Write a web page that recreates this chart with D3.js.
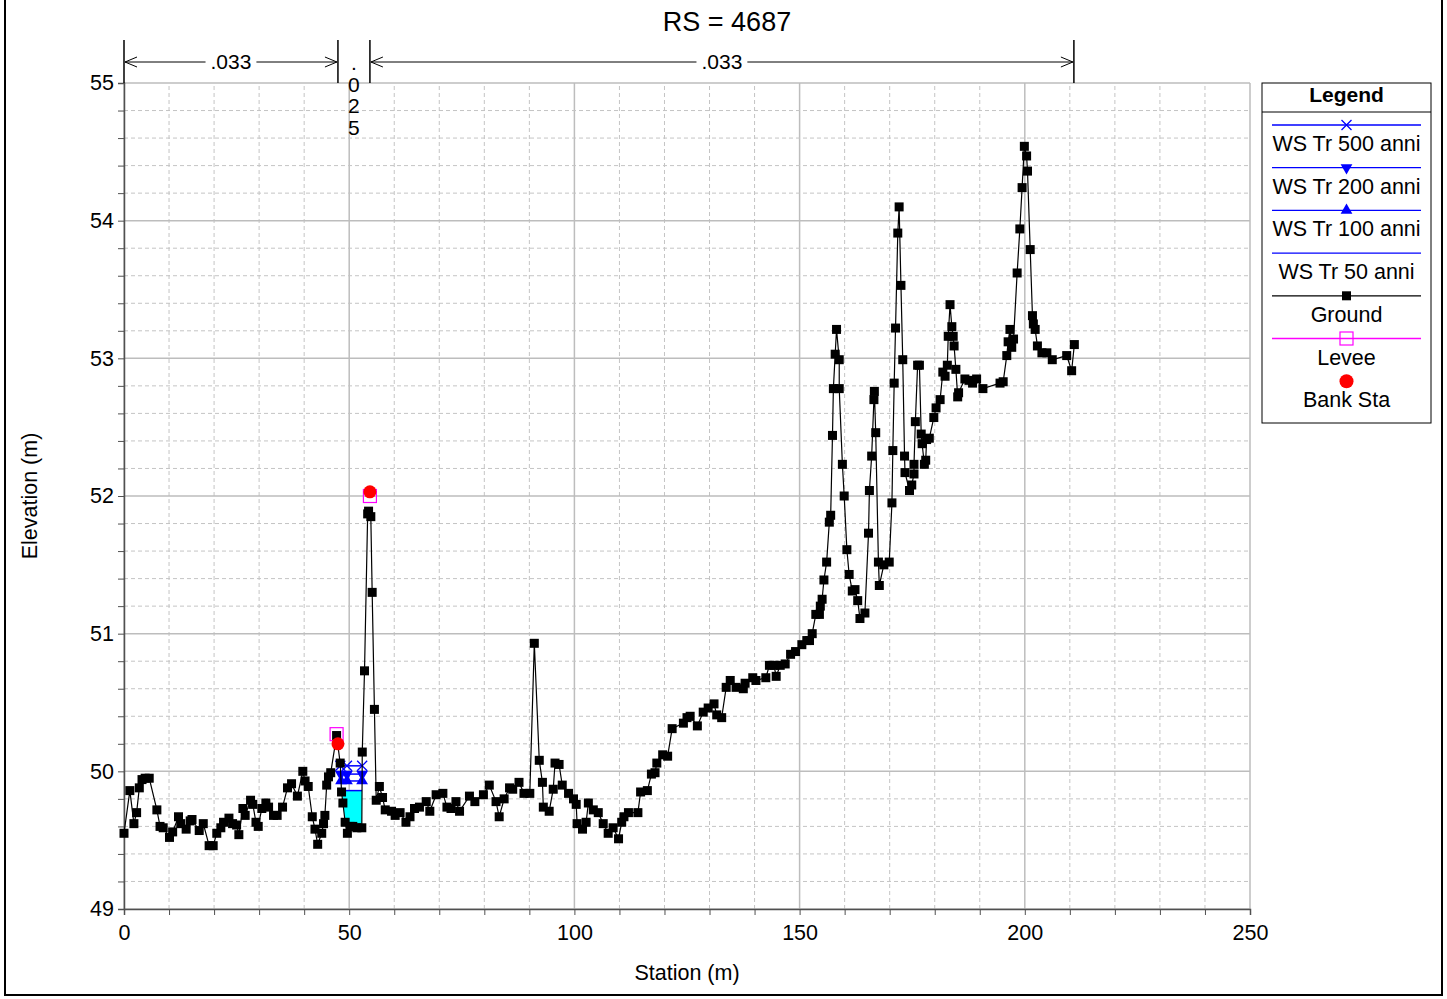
<!DOCTYPE html>
<html>
<head>
<meta charset="utf-8">
<script src="https://cdn.jsdelivr.net/npm/d3@7"></script>
<style>
  body { margin: 0; background: #fff; }
  text { font-family: "Liberation Sans", Arial, sans-serif; fill: #000; }
</style>
</head>
<body>
<svg id="chart" width="1447" height="999"></svg>
<script>
// ground survey points [station, elevation]
const groundPoints = [
  [0.0,49.55],[1.3,49.86],[2.2,49.62],[2.8,49.70],[3.4,49.88],[4.0,49.94],[4.7,49.95],[5.6,49.95],
  [7.3,49.72],[8.0,49.60],[8.7,49.59],[10.1,49.52],[10.8,49.56],[12.1,49.67],[12.6,49.62],[13.8,49.58],
  [14.7,49.64],[15.1,49.65],[16.7,49.57],[17.6,49.62],[18.9,49.46],[19.8,49.46],[20.6,49.55],[21.5,49.59],
  [22.1,49.63],[23.3,49.66],[24.1,49.62],[25.0,49.61],[25.5,49.54],[26.4,49.73],[26.9,49.68],[28.1,49.79],
  [28.6,49.76],[29.3,49.63],[29.8,49.60],[30.6,49.73],[31.5,49.77],[32.1,49.74],[33.2,49.68],[34.0,49.68],
  [35.2,49.74],[36.3,49.88],[37.2,49.91],[38.5,49.82],[39.7,50.00],[40.2,49.93],[40.9,49.89],[41.8,49.67],
  [42.4,49.58],[43.0,49.47],[43.9,49.55],[44.3,49.62],[44.6,49.68],[45.0,49.90],[45.4,49.96],[45.9,49.99],
  [47.2,50.26],[48.0,50.06],[48.3,49.85],[48.6,49.77],[49.1,49.63],[49.6,49.55],[50.2,49.60],[50.8,49.60],
  [51.7,49.59],[52.8,49.59],[52.9,50.14],[53.4,50.73],[54.1,51.87],[54.3,51.89],[54.8,51.85],[55.1,51.30],
  [55.6,50.45],[56.0,49.79],[56.7,49.89],[57.4,49.81],[58.0,49.72],[59.4,49.71],[60.2,49.68],[61.3,49.70],
  [62.6,49.63],[63.5,49.67],[64.5,49.73],[65.6,49.74],[67.1,49.78],[67.9,49.71],[69.3,49.83],[70.8,49.84],
  [71.7,49.74],[72.6,49.73],[73.7,49.78],[74.5,49.71],[76.7,49.82],[77.9,49.78],[79.8,49.83],[81.1,49.90],
  [82.6,49.78],[83.3,49.67],[84.4,49.80],[85.6,49.88],[86.3,49.87],[87.7,49.92],[88.8,49.84],[90.1,49.84],
  [91.1,50.93],[92.2,50.08],[92.9,49.92],[93.1,49.74],[94.4,49.71],[95.3,49.87],[95.7,50.06],[96.6,50.05],
  [97.3,49.90],[98.7,49.84],[99.8,49.80],[100.4,49.76],[100.6,49.62],[101.8,49.58],[102.6,49.63],[103.1,49.77],
  [104.2,49.72],[105.3,49.70],[106.4,49.62],[107.5,49.55],[108.6,49.59],[109.8,49.51],[110.5,49.63],[111.0,49.67],
  [112.0,49.70],[114.1,49.70],[114.7,49.85],[116.2,49.86],[117.1,49.98],[117.9,49.99],[118.3,50.06],[119.6,50.12],
  [120.7,50.11],[121.7,50.31],[124.2,50.35],[125.0,50.39],[125.7,50.40],[127.3,50.33],[128.6,50.43],[129.7,50.46],
  [131.0,50.49],[131.6,50.41],[132.7,50.39],[133.7,50.61],[134.6,50.66],[135.9,50.61],[137.5,50.60],[137.9,50.64],
  [139.6,50.68],[140.3,50.66],[142.5,50.68],[143.3,50.77],[144.3,50.77],[144.8,50.69],[145.7,50.77],[146.8,50.78],
  [148.0,50.85],[149.1,50.87],[150.5,50.92],[151.6,50.95],[152.2,50.95],[152.8,51.00],[153.6,51.14],[154.4,51.14],
  [154.6,51.20],[155.0,51.25],[155.4,51.39],[156.0,51.52],[156.6,51.81],[156.9,51.86],[157.3,52.44],[157.5,52.78],
  [157.9,53.03],[158.2,53.21],[158.8,52.99],[158.8,52.78],[159.5,52.23],[159.9,52.00],[160.5,51.61],[161.0,51.43],
  [161.7,51.31],[162.3,51.32],[162.9,51.24],[163.4,51.11],[164.5,51.15],[165.3,51.73],[165.5,52.04],[166.0,52.29],
  [166.5,52.70],[166.6,52.76],[166.9,52.46],[167.5,51.52],[167.7,51.35],[168.7,51.50],[169.9,51.52],[170.5,51.95],
  [170.7,52.33],[171.0,52.82],[171.3,53.22],[171.8,53.91],[172.1,54.10],[172.5,53.53],[172.9,52.99],[173.3,52.29],
  [173.4,52.17],[174.4,52.04],[174.9,52.08],[175.4,52.16],[175.4,52.23],[175.7,52.54],[176.2,52.95],[176.6,52.95],
  [177.0,52.45],[177.2,52.38],[177.7,52.23],[178.0,52.26],[178.2,52.41],[178.8,52.42],[179.8,52.57],[180.3,52.64],
  [181.2,52.70],[181.8,52.90],[182.3,52.87],[182.8,52.95],[183.0,53.16],[183.4,53.39],[183.8,53.23],[184.1,53.16],
  [184.3,53.09],[184.7,52.92],[185.1,52.72],[185.3,52.75],[186.7,52.85],[187.6,52.84],[188.4,52.82],[189.3,52.85],
  [190.7,52.78],[194.5,52.82],[195.2,52.83],[196.0,53.02],[196.3,53.12],[196.7,53.21],[197.1,53.08],[197.5,53.14],
  [198.3,53.62],[198.9,53.94],[199.4,54.24],[199.9,54.54],[200.4,54.47],[200.6,54.36],[201.2,53.79],[201.7,53.31],
  [201.9,53.25],[202.3,53.21],[202.8,53.09],[203.8,53.04],[204.9,53.04],[206.1,52.99],[209.3,53.02],[210.4,52.91],
  [211.0,53.10]
];
const bankStations = [[47.5, 50.20], [54.6, 52.03]];
const leveePoints = [[47.2, 50.27], [54.6, 52.00]];

const profileNames = ["WS Tr 500 anni", "WS Tr 200 anni", "WS Tr 100 anni", "WS Tr 50 anni"];
const profileElev = [50.04, 49.98, 49.93, 49.86];
const profileMarker = ["cross", "down", "up", "none"];
const profileMidSta = 49.5;

const manningN = [".033", ".025", ".033"];
const manningBreaks = [0, 47.5, 54.6, 210.9];

const xTicks = [0, 50, 100, 150, 200, 250];
const yTicks = [49, 50, 51, 52, 53, 54, 55];

class XSPlot {
    constructor() {
        this.svg = d3.select("#chart");
        this.x = d3.scaleLinear().domain([0, 250]).range([124, 1250]);
        this.y = d3.scaleLinear().domain([49, 55]).range([909, 83]);
        this.blue = "#0000ff";

        this.frame();
        this.grid();
        this.axes();
        this.manning();
        this.water();
        this.ground();
        this.legend();
    }

    frame() {
        this.svg.append("rect")
            .attr("x", 5).attr("y", -2)
            .attr("width", 1437).attr("height", 997)
            .attr("fill", "none").attr("stroke", "#000").attr("stroke-width", 2);

        this.svg.append("text")
            .attr("x", 727).attr("y", 31)
            .attr("text-anchor", "middle")
            .style("font-size", "27px")
            .text("RS = 4687");
    }

    grid() {
        const g = this.svg.append("g");
        const xs = d3.range(0, 251, 10);
        const ys = d3.range(0, 31).map(i => 49 + i * 0.2);

        g.selectAll(".vg").data(xs).join("line")
            .attr("x1", d => this.x(d)).attr("x2", d => this.x(d))
            .attr("y1", this.y(49)).attr("y2", this.y(55))
            .attr("stroke", d => d % 50 === 0 ? "#bdbdbd" : "#c4c4c4")
            .attr("stroke-width", d => d % 50 === 0 ? 1.5 : 1)
            .attr("stroke-dasharray", d => d % 50 === 0 ? null : "4,3");

        g.selectAll(".hg").data(ys).join("line")
            .attr("x1", this.x(0)).attr("x2", this.x(250))
            .attr("y1", d => this.y(d)).attr("y2", d => this.y(d))
            .attr("stroke", (d, i) => i % 5 === 0 ? "#bdbdbd" : "#c4c4c4")
            .attr("stroke-width", (d, i) => i % 5 === 0 ? 1.5 : 1)
            .attr("stroke-dasharray", (d, i) => i % 5 === 0 ? null : "4,3");
    }

    axes() {
        const xAxis = d3.axisBottom(this.x)
            .tickValues(d3.range(0, 251, 10))
            .tickSize(6)
            .tickFormat(d => xTicks.includes(d) ? d : "");
        const gx = this.svg.append("g")
            .attr("transform", `translate(0,${this.y(49)})`)
            .call(xAxis);

        const yAxis = d3.axisLeft(this.y)
            .tickValues(d3.range(0, 31).map(i => 49 + i * 0.2))
            .tickSize(6)
            .tickFormat(d => {
                const r = Math.round(d * 10) / 10;
                return yTicks.includes(r) ? r : "";
            });
        const gy = this.svg.append("g")
            .attr("transform", `translate(${this.x(0)},0)`)
            .call(yAxis);

        [gx, gy].forEach(g => {
            g.select(".domain").attr("stroke", "#505050").attr("stroke-width", 1.5);
            g.selectAll(".tick line").attr("stroke", "#505050");
            g.selectAll(".tick text").style("font-size", "21.5px").attr("fill", "#000")
                .style("font-family", '"Liberation Sans", Arial, sans-serif');
        });
        gx.selectAll(".tick text").attr("dy", "1.0em");
        gy.selectAll(".tick text").attr("x", -10);

        this.svg.append("text")
            .attr("x", 687).attr("y", 980)
            .attr("text-anchor", "middle")
            .style("font-size", "21.5px")
            .text("Station (m)");

        this.svg.append("text")
            .attr("transform", `translate(37,496) rotate(-90)`)
            .attr("text-anchor", "middle")
            .style("font-size", "21.5px")
            .text("Elevation (m)");
    }

    manning() {
        const g = this.svg.append("g");
        const yTop = 40, yArrow = 62;

        g.selectAll(".brk").data(manningBreaks).join("line")
            .attr("x1", d => this.x(d)).attr("x2", d => this.x(d))
            .attr("y1", yTop).attr("y2", this.y(55))
            .attr("stroke", "#000").attr("stroke-width", 1.5);

        manningN.forEach((n, i) => {
            const s = g.append("g");
            const x0 = this.x(manningBreaks[i]);
            const x1 = this.x(manningBreaks[i + 1]);
            const xm = (x0 + x1) / 2;
            if (x1 - x0 < 60) {
                // too narrow: stack the characters
                n.split("").forEach((ch, k) => {
                    s.append("text")
                        .attr("x", xm).attr("y", 70 + k * 21.5)
                        .attr("text-anchor", "middle")
                        .style("font-size", "21px")
                        .text(ch);
                });
                return;
            }
            s.append("line")
                .attr("x1", x0 + 1).attr("x2", x1 - 1)
                .attr("y1", yArrow).attr("y2", yArrow)
                .attr("stroke", "#000").attr("stroke-width", 1);
            s.append("path")
                .attr("d", `M${x0 + 13},${yArrow - 5}L${x0 + 1},${yArrow}L${x0 + 13},${yArrow + 5}`)
                .attr("fill", "none").attr("stroke", "#000");
            s.append("path")
                .attr("d", `M${x1 - 13},${yArrow - 5}L${x1 - 1},${yArrow}L${x1 - 13},${yArrow + 5}`)
                .attr("fill", "none").attr("stroke", "#000");
            const bg = s.append("rect").attr("fill", "#fff");
            const t = s.append("text")
                .attr("x", xm).attr("y", yArrow + 7)
                .attr("text-anchor", "middle")
                .style("font-size", "21px")
                .text(n);
            const bb = t.node().getBBox();
            bg.attr("x", bb.x - 5).attr("y", yArrow - 3)
                .attr("width", bb.width + 10).attr("height", 6);
        });
    }

    // where a water level meets the ground between the levees
    wetExtent(ws) {
        const pts = groundPoints.filter(d => d[0] >= leveePoints[0][0] && d[0] <= leveePoints[1][0]);
        let left = null, right = null;
        for (let i = 1; i < pts.length; i++) {
            const [s0, e0] = pts[i - 1], [s1, e1] = pts[i];
            if (e0 >= ws && e1 < ws && left === null) left = s0 + (s1 - s0) * (e0 - ws) / (e0 - e1);
            if (e0 < ws && e1 >= ws) right = s0 + (s1 - s0) * (ws - e0) / (e1 - e0);
        }
        const inner = pts.filter(d => d[0] > left && d[0] < right);
        return {left, right, inner};
    }

    water() {
        const g = this.svg.append("g");
        const wsLow = profileElev[profileElev.length - 1];
        const ext = this.wetExtent(wsLow);
        const fillPts = [[ext.left, wsLow], ...ext.inner, [ext.right, wsLow]];

        g.append("path")
            .datum(fillPts)
            .attr("fill", "#00ffff")
            .attr("d", d3.area()
                .x(d => this.x(d[0]))
                .y0(this.y(wsLow))
                .y1(d => this.y(d[1])));

        profileElev.forEach((ws, i) => {
            const e = this.wetExtent(ws);
            g.append("line")
                .attr("x1", this.x(e.left)).attr("x2", this.x(e.right))
                .attr("y1", this.y(ws)).attr("y2", this.y(ws))
                .attr("stroke", this.blue).attr("stroke-width", 1.5);
            [e.left, profileMidSta, e.right]
                .forEach(s => this.marker(g, profileMarker[i], this.x(s), this.y(ws)));
        });
    }

    marker(g, type, cx, cy) {
        if (type === "cross") {
            g.append("path")
                .attr("d", `M${cx - 5},${cy - 5}L${cx + 5},${cy + 5}M${cx - 5},${cy + 5}L${cx + 5},${cy - 5}`)
                .attr("stroke", this.blue).attr("stroke-width", 1.3);
        } else if (type === "down" || type === "up") {
            g.append("path")
                .attr("d", d3.symbol().type(d3.symbolTriangle).size(60)())
                .attr("transform", `translate(${cx},${cy}) rotate(${type === "down" ? 180 : 0})`)
                .attr("fill", this.blue);
        }
    }

    ground() {
        const g = this.svg.append("g");
        g.append("path")
            .datum(groundPoints)
            .attr("fill", "none")
            .attr("stroke", "#000")
            .attr("stroke-width", 1.2)
            .attr("d", d3.line().x(d => this.x(d[0])).y(d => this.y(d[1])));

        g.selectAll(".gp").data(groundPoints).join("rect")
            .attr("x", d => this.x(d[0]) - 4.5)
            .attr("y", d => this.y(d[1]) - 4.5)
            .attr("width", 9).attr("height", 9)
            .attr("fill", "#000");

        g.selectAll(".lv").data(leveePoints).join("rect")
            .attr("x", d => this.x(d[0]) - 6.5)
            .attr("y", d => this.y(d[1]) - 6.5)
            .attr("width", 13).attr("height", 13)
            .attr("fill", "none").attr("stroke", "#ff00ff").attr("stroke-width", 1.2);

        g.selectAll(".bk").data(bankStations).join("circle")
            .attr("cx", d => this.x(d[0]))
            .attr("cy", d => this.y(d[1]))
            .attr("r", 6.5)
            .attr("fill", "#ff0000");
    }

    legend() {
        const g = this.svg.append("g");
        const x0 = 1262, x1 = 1431, cx = (x0 + x1) / 2;
        g.append("rect")
            .attr("x", x0).attr("y", 83)
            .attr("width", x1 - x0).attr("height", 340)
            .attr("fill", "#fff").attr("stroke", "#000").attr("stroke-width", 1);
        g.append("text")
            .attr("x", cx).attr("y", 102)
            .attr("text-anchor", "middle")
            .style("font-size", "21px").style("font-weight", "bold")
            .text("Legend");
        g.append("line")
            .attr("x1", x0).attr("x2", x1).attr("y1", 112).attr("y2", 112)
            .attr("stroke", "#000");

        const entries = profileNames.map((n, i) => ({name: n, color: this.blue, mark: profileMarker[i]}))
            .concat([
                {name: "Ground", color: "#000", mark: "square"},
                {name: "Levee", color: "#ff00ff", mark: "open"},
                {name: "Bank Sta", color: null, mark: "dot"}
            ]);

        entries.forEach((e, i) => {
            const ly = 125 + i * 42.7;
            if (e.color) {
                g.append("line")
                    .attr("x1", x0 + 10).attr("x2", x1 - 10)
                    .attr("y1", ly).attr("y2", ly)
                    .attr("stroke", e.color).attr("stroke-width", 1.3);
            }
            if (e.mark === "square") {
                g.append("rect").attr("x", cx - 4.5).attr("y", ly - 4.5)
                    .attr("width", 9).attr("height", 9).attr("fill", "#000");
            } else if (e.mark === "open") {
                g.append("rect").attr("x", cx - 6.5).attr("y", ly - 6.5)
                    .attr("width", 13).attr("height", 13)
                    .attr("fill", "none").attr("stroke", "#ff00ff").attr("stroke-width", 1.2);
            } else if (e.mark === "dot") {
                g.append("circle").attr("cx", cx).attr("cy", ly)
                    .attr("r", 7).attr("fill", "#ff0000");
            } else {
                this.marker(g, e.mark, cx, ly);
            }
            g.append("text")
                .attr("x", cx).attr("y", ly + 26)
                .attr("text-anchor", "middle")
                .style("font-size", "21.5px")
                .text(e.name);
        });
    }
}

new XSPlot();
</script>
</body>
</html>
